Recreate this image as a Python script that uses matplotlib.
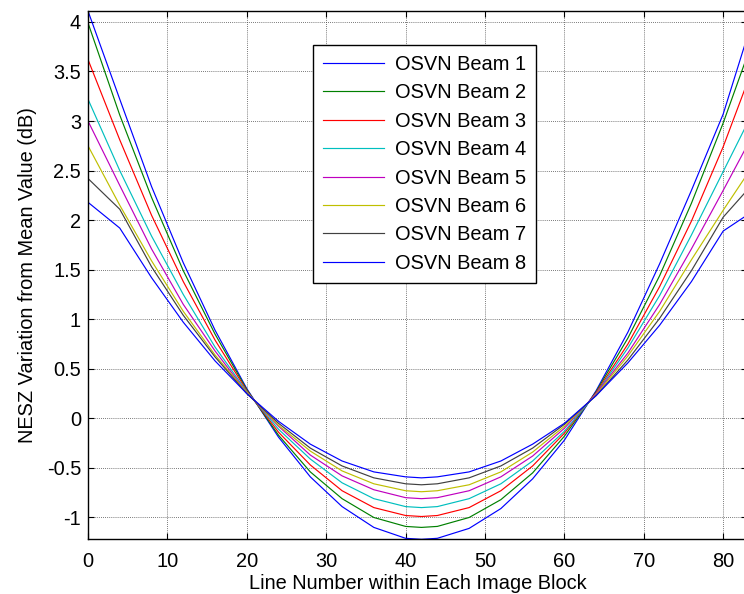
import matplotlib
matplotlib.use("Agg")
import matplotlib.pyplot as plt

x = [0, 4, 8, 12, 16, 20, 24, 28, 32, 36, 40, 42, 44, 48, 52, 56, 60, 64, 68, 72, 76, 80, 83]

beam1 = [4.11, 3.22, 2.34, 1.57, 0.89, 0.30, -0.19, -0.59, -0.89, -1.10, -1.21, -1.22,
         -1.21, -1.11, -0.91, -0.61, -0.22, 0.28, 0.87, 1.56, 2.30, 3.07, 3.84]
beam2 = [3.99, 3.06, 2.23, 1.49, 0.85, 0.29, -0.17, -0.54, -0.81, -1.00, -1.09, -1.10,
         -1.09, -1.00, -0.82, -0.55, -0.18, 0.27, 0.81, 1.44, 2.17, 2.98, 3.65]
beam3 = [3.62, 2.81, 2.05, 1.38, 0.79, 0.28, -0.14, -0.47, -0.73, -0.90, -0.98, -0.99,
         -0.98, -0.90, -0.73, -0.48, -0.15, 0.26, 0.75, 1.33, 1.99, 2.74, 3.38]
beam4 = [3.22, 2.50, 1.84, 1.25, 0.72, 0.27, -0.11, -0.41, -0.65, -0.81, -0.89, -0.90,
         -0.89, -0.81, -0.66, -0.43, -0.13, 0.25, 0.71, 1.24, 1.85, 2.49, 2.97]
beam5 = [3.00, 2.35, 1.71, 1.15, 0.68, 0.26, -0.08, -0.37, -0.58, -0.72, -0.80, -0.81,
         -0.80, -0.73, -0.59, -0.38, -0.10, 0.25, 0.66, 1.15, 1.71, 2.30, 2.75]
beam6 = [2.75, 2.15, 1.59, 1.08, 0.64, 0.26, -0.07, -0.33, -0.53, -0.66, -0.73, -0.74,
         -0.73, -0.67, -0.54, -0.34, -0.08, 0.24, 0.63, 1.08, 1.60, 2.10, 2.46]
beam7 = [2.42, 2.11, 1.53, 1.04, 0.62, 0.25, -0.05, -0.30, -0.48, -0.60, -0.66, -0.67,
         -0.66, -0.60, -0.48, -0.30, -0.06, 0.23, 0.59, 1.01, 1.49, 2.03, 2.30]
beam8 = [2.18, 1.92, 1.42, 0.97, 0.58, 0.25, -0.03, -0.26, -0.43, -0.54, -0.59, -0.60,
         -0.59, -0.54, -0.43, -0.26, -0.05, 0.23, 0.56, 0.94, 1.38, 1.89, 2.05]

series = [beam1, beam2, beam3, beam4, beam5, beam6, beam7, beam8]
labels = ["OSVN Beam 1", "OSVN Beam 2", "OSVN Beam 3", "OSVN Beam 4",
          "OSVN Beam 5", "OSVN Beam 6", "OSVN Beam 7", "OSVN Beam 8"]
colors = [(0, 0, 1), (0, 0.5, 0), (1, 0, 0), (0, 0.75, 0.75),
          (0.75, 0, 0.75), (0.75, 0.75, 0), (0.25, 0.25, 0.25), (0, 0, 1)]

xticks = [0, 10, 20, 30, 40, 50, 60, 70, 80]
yticks = [-1, -0.5, 0, 0.5, 1, 1.5, 2, 2.5, 3, 3.5, 4]
yticklabels = ["-1", "-0.5", "0", "0.5", "1", "1.5", "2", "2.5", "3", "3.5", "4"]

plt.rcParams['font.family'] = ['Liberation Sans', 'DejaVu Sans']
fs = 14.4

fig = plt.figure(figsize=(7.44, 5.94), dpi=100)
W, H = 744, 594
left, right, top, bottom = 88, 747, 11, 539.3
ax = fig.add_axes([left / W, 1 - bottom / H, (right - left) / W, (bottom - top) / H])

for ys, lab, c in zip(series, labels, colors):
    ax.plot(x, ys, color=c, lw=0.85, label=lab)

ax.set_xlim(0, 83)
ax.set_ylim(-1.22, 4.11)
ax.set_xticks(xticks)
ax.set_xticklabels([str(v) for v in xticks])
ax.set_yticks(yticks)
ax.set_yticklabels(yticklabels)
ax.tick_params(direction='in', top=True, right=True, length=4, width=0.8,
               labelsize=fs, pad=5)
ax.tick_params(axis='x', pad=9)
ax.grid(True, color=(0.3, 0.3, 0.3), linestyle=(0, (1, 1.5)), linewidth=0.6)
for sp in ax.spines.values():
    sp.set_linewidth(1.0)
    sp.set_color('black')

ax.set_xlabel("Line Number within Each Image Block", fontsize=fs, labelpad=2)
ax.set_ylabel("NESZ Variation from Mean Value (dB)", fontsize=fs, labelpad=7)

leg = ax.legend(loc='upper left', bbox_to_anchor=(0.341, 0.9357), borderaxespad=0,
                fontsize=fs, frameon=True, fancybox=False, framealpha=1,
                edgecolor='black', handlelength=3.05, handletextpad=0.55,
                labelspacing=0.47, borderpad=0.5)
leg.get_frame().set_linewidth(1.0)

fig.savefig("out.png", dpi=100)
